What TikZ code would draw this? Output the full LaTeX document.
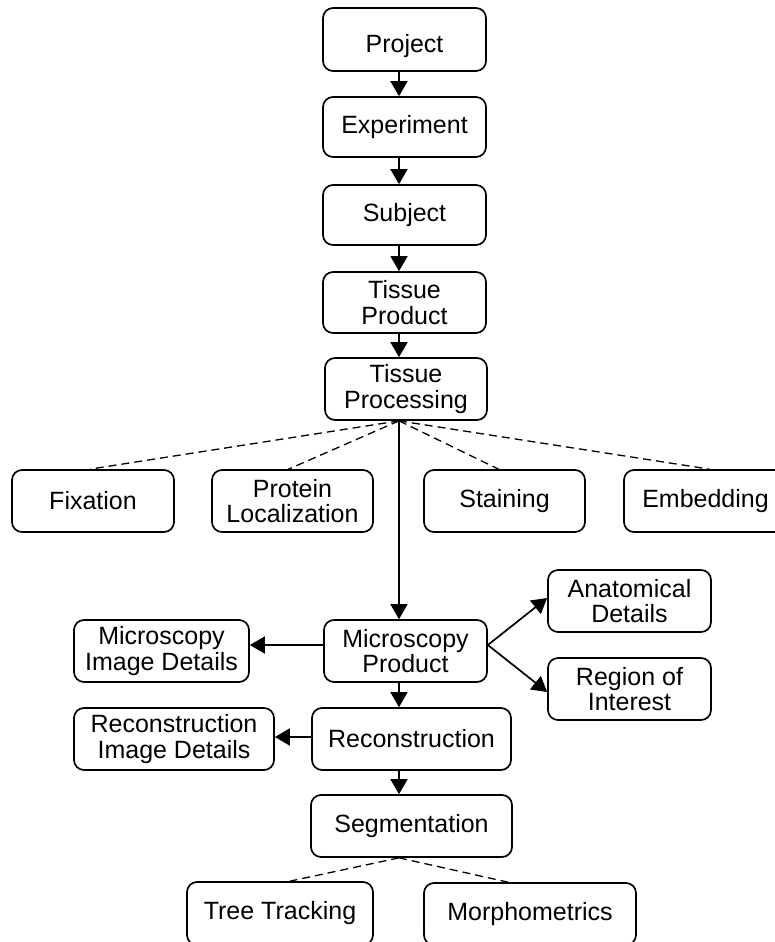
\documentclass[tikz,border=0pt]{standalone}
\usepackage{fontspec}
\setmainfont{Liberation Sans}
\usetikzlibrary{arrows.meta,calc}
\begin{document}
\begin{tikzpicture}[x=1pt,y=-1pt,
  box/.style={draw, line width=1.7pt, rounded corners=10pt, inner sep=0pt, align=center,
    font=\fontsize{25}{25.5}\selectfont},
  arr/.style={line width=1.7pt, -{Triangle[length=15pt,width=17pt]}},
  dsh/.style={line width=1.3pt, dash pattern=on 8pt off 5pt}]
\useasboundingbox (0,0) rectangle (775,942);
\begin{scope}
\clip (0,0) rectangle (775,942);
\newcommand{\bx}[7][]{\node[box, minimum width=#5-#3, minimum height=#6-#4, #1] (#2) at ({(#3+#5)/2},{(#4+#6)/2}) {#7};}
\bx[text height=26pt, text depth=0pt]{proj}{323}{8}{486}{71}{Project}
\bx{exper}{323}{97}{486}{157}{Experiment}
\bx{subj}{323}{185}{486}{245}{Subject}
\bx{tprod}{323}{272}{486}{333}{Tissue\\Product}
\bx{tproc}{325}{358}{487}{420}{Tissue\\Processing}
\bx{fix}{12}{470}{174}{532}{Fixation}
\bx{prot}{212}{470}{373}{532}{Protein\\Localization}
\bx{stain}{424}{470}{585}{532}{Staining}
\bx{embed}{624}{470}{787}{532}{Embedding}
\bx{anat}{548}{570}{711}{632}{Anatomical\\Details}
\bx{mprod}{324}{620}{487}{682}{Microscopy\\Product}
\bx{mid}{74}{620}{249}{682}{Microscopy\\Image Details}
\bx{roi}{548}{658}{711}{720}{Region of\\Interest}
\bx{rec}{312}{708}{511}{770}{Reconstruction}
\bx{rid}{74}{708}{274}{770}{Reconstruction\\Image Details}
\bx{seg}{311}{795}{512}{857}{Segmentation}
\bx{tt}{187}{882}{373}{945}{Tree Tracking}
\bx{morph}{424}{883}{636}{945}{Morphometrics}
\coordinate (spine) at (399,0);
\draw[arr] (proj.south -| spine) -- (exper.north -| spine);
\draw[arr] (exper.south -| spine) -- (subj.north -| spine);
\draw[arr] (subj.south -| spine) -- (tprod.north -| spine);
\draw[arr] (tprod.south -| spine) -- (tproc.north -| spine);
\draw[arr] (tproc.south -| spine) -- (mprod.north -| spine);
\draw[arr] (mprod.south -| spine) -- (rec.north -| spine);
\draw[arr] (rec.south -| spine) -- (seg.north -| spine);
\draw[dsh] (tproc.south -| spine) -- ([xshift=-3pt]fix.north);
\draw[dsh] (tproc.south -| spine) -- ([xshift=-4pt]prot.north);
\draw[dsh] (tproc.south -| spine) -- ([xshift=-6pt]stain.north);
\draw[dsh] (tproc.south -| spine) -- ([xshift=4pt]embed.north);
\draw[dsh] (seg.south -| spine) -- ([xshift=10pt]tt.north);
\draw[dsh] (seg.south -| spine) -- ([xshift=-22pt]morph.north);
\draw[arr] ([yshift=6pt]mprod.west) -- ([yshift=6pt]mid.east);
\draw[arr] ([yshift=2pt]rec.west) -- ([yshift=2pt]rid.east);
\draw[arr] ([yshift=6pt]mprod.east) -- ([yshift=3pt]anat.west);
\draw[arr] ([yshift=6pt]mprod.east) -- ([yshift=-3pt]roi.west);
\end{scope}
\end{tikzpicture}
\end{document}
